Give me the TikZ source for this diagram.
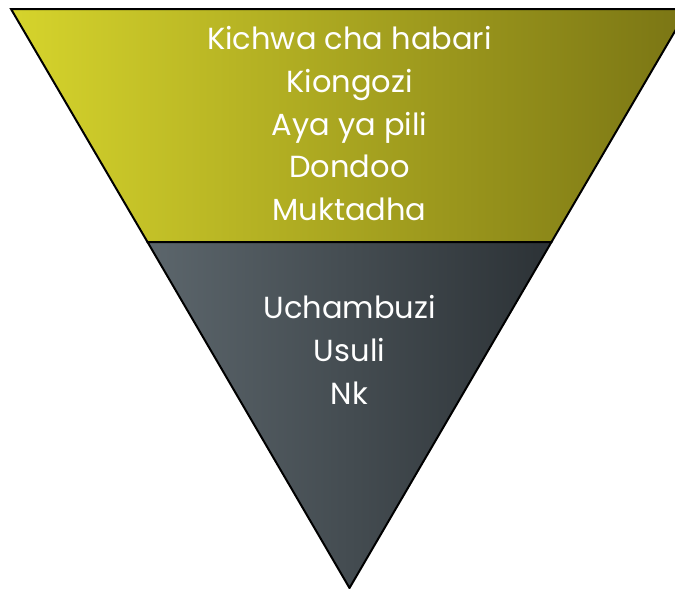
\documentclass[tikz,border=0pt]{standalone}
\usepackage{fontspec}
\setmainfont{Poppins}
\usepackage{xcolor}
\usepackage{tikz}
\definecolor{oliveleft}{RGB}{214,212,44}
\definecolor{oliveright}{RGB}{122,117,20}
\definecolor{slateleft}{RGB}{92,102,108}
\definecolor{slateright}{RGB}{44,50,54}
\tikzset{
  band/.style={draw=black,line width=2pt,line join=miter},
  lbl/.style={text=white,anchor=base,inner sep=0pt,font=\fontsize{30.5}{36}\selectfont}
}

\begin{document}
\begin{tikzpicture}[x=1pt,y=-1pt]
    \useasboundingbox (0,0) rectangle (675,589);
    \begin{scope}
      \clip (0,0) rectangle (675,589);
      % top band
      \path[band,left color=oliveleft,right color=oliveright]
        (11,9) coordinate (tl) -- (688,9) coordinate (tr)
        -- (551.5,242) coordinate (mr) -- (147.5,242) coordinate (ml) -- cycle;
      % bottom band
      \path[band,left color=slateleft,right color=slateright]
        (ml) -- (mr) -- (349.5,588) coordinate (apex) -- cycle;
    \end{scope}
    \foreach \name/\y/\txt in {kichwa/49/Kichwa cha habari,kiongozi/92/Kiongozi,
        aya/135/Aya ya pili,dondoo/177/Dondoo,muktadha/220/Muktadha,
        uchambuzi/318/Uchambuzi,usuli/361/Usuli,nk/404/Nk}
      \node[lbl] (\name) at (349.5,\y) {\txt};
  \end{tikzpicture}
\end{document}
